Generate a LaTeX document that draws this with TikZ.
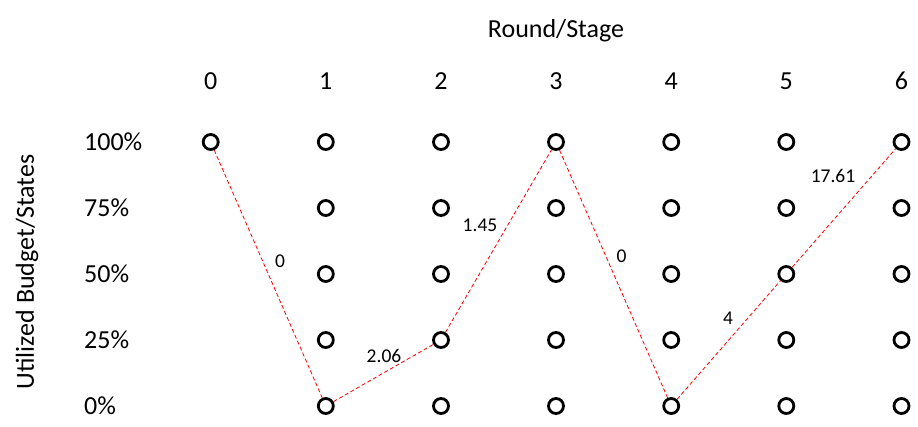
\documentclass[tikz,border=0pt]{standalone}
\usepackage{fontspec}
\setmainfont{Carlito}
\begin{document}
\begin{tikzpicture}[x=1pt,y=-1pt,
  stnode/.style={circle,draw=black,line width=2.8pt,minimum size=15pt,inner sep=0pt},
  lbl/.style={font=\fontsize{26}{30}\selectfont,inner sep=0pt},
  edgelbl/.style={font=\fontsize{19.5}{23}\selectfont,inner sep=0pt},
  path/.style={red,dashed,line width=0.8pt,dash pattern=on 4pt off 2.5pt}]
\useasboundingbox (0,0) rectangle (918,426);
\def\cx{{210.7,325.8,441,556,671.2,786.3,901.5}}
\def\ry{{142,208,274,340,406}}
% title
\node[lbl] (title) at (556,31) {Round/Stage};
% column headers
\foreach \i in {0,...,6} {
  \pgfmathsetmacro{\xx}{\cx[\i]}
  \node[lbl] (h\i) at (\xx,81) {\i};
}
% row labels
\node[lbl,anchor=west] (r0) at (84,142) {100\%};
\node[lbl,anchor=west] (r1) at (84,208) {75\%};
\node[lbl,anchor=west] (r2) at (84,274) {50\%};
\node[lbl,anchor=west] (r3) at (84,340) {25\%};
\node[lbl,anchor=west] (r4) at (84,406) {0\%};
% axis label
\node[lbl,rotate=90] (ylab) at (27,272) {Utilized Budget/States};
% state nodes
\node[stnode] (n0-0) at (210.7,142) {};
\foreach \i in {1,...,6} {
  \foreach \j in {0,...,4} {
    \pgfmathsetmacro{\xx}{\cx[\i]}
    \pgfmathsetmacro{\yy}{\ry[\j]}
    \node[stnode] (n\i-\j) at (\xx,\yy) {};
  }
}
% path
\draw[path] (n0-0) -- (n1-4);
\draw[path] (n1-4) -- (n2-3);
\draw[path] (n2-3) -- (n3-0);
\draw[path] (n3-0) -- (n4-4);
\draw[path] (n4-4) -- (n5-2);
\draw[path] (n5-2) -- (n6-0);
% edge labels
\node[edgelbl] (e1) at (280,261) {0};
\node[edgelbl] (e2) at (384,356) {2.06};
\node[edgelbl] (e3) at (480,225) {1.45};
\node[edgelbl] (e4) at (621.5,256) {0};
\node[edgelbl] (e5) at (728,318) {4};
\node[edgelbl] (e6) at (833,176) {17.61};
\end{tikzpicture}
\end{document}
